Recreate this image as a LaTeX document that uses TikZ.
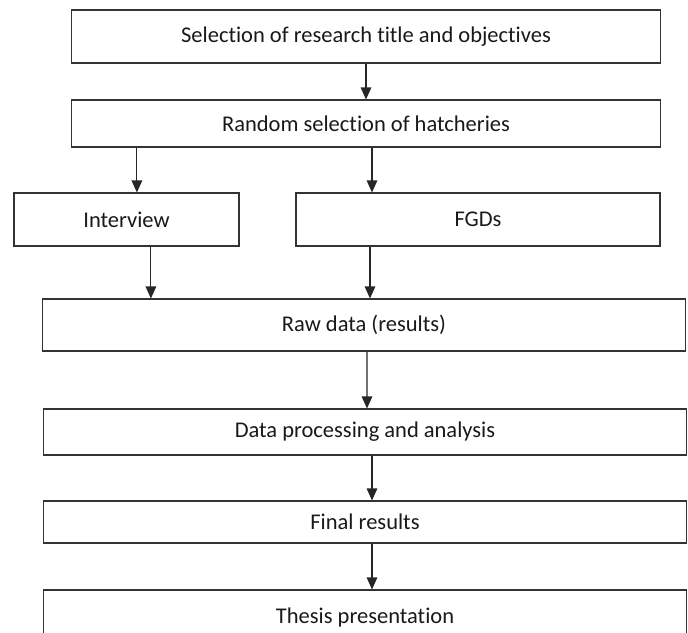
\documentclass[tikz,border=0pt]{standalone}
\usepackage{fontspec}
\setmainfont[Ligatures=NoCommon]{Carlito}
\usetikzlibrary{arrows.meta}

\tikzset{
  stage/.style={draw=black!80, line width=0.8pt, rectangle, inner sep=0pt,
    font=\fontsize{16}{18}\selectfont, text=black!90},
  flow/.style={->, black!85, line width=0.8pt}
}

\begin{document}
\begin{tikzpicture}[>={Triangle[length=8.5pt,width=7.5pt]}, x=0.025cm, y=-0.025cm]

    % Frame of the page
    \useasboundingbox (0,0) rectangle (688,632);
    \clip (0,0) rectangle (688,632);

    % Stages
    \node[stage, minimum width=14.7cm, minimum height=1.325cm] (sel) at (366,36.5) {Selection of research title and objectives};
    \node[stage, minimum width=14.7cm, minimum height=1.175cm] (rand) at (366,123.5) {Random selection of hatcheries};
    \node[stage, minimum width=5.625cm, minimum height=1.325cm] (intv) at (126.5,219.5) {Interview};
    \node[stage, minimum width=9.1cm, minimum height=1.325cm] (fgd) at (478,219.5) {FGDs};
    \node[stage, minimum width=16.05cm, minimum height=1.3cm] (raw) at (364,325) {Raw data (results)};
    \node[stage, minimum width=16.05cm, minimum height=1.15cm] (proc) at (365,432) {Data processing and analysis};
    \node[stage, minimum width=16.05cm, minimum height=1.05cm] (final) at (365,522) {Final results};
    \node[stage, minimum width=16.05cm, minimum height=1.35cm] (thesis) at (365,617) {Thesis presentation};

    % Arrows between stages
    \draw[flow] (sel.south) -- (rand.north);
    \draw[flow] ([xshift=0.26cm]intv.north |- rand.south) -- ([xshift=0.26cm]intv.north);
    \draw[flow] ([xshift=0.15cm]rand.south) -- ([xshift=0.15cm]rand.south |- fgd.north);
    \draw[flow] ([xshift=0.61cm]intv.south) -- ([xshift=0.61cm]intv.south |- raw.north);
    \draw[flow] ([xshift=0.15cm]raw.north |- fgd.south) -- ([xshift=0.15cm]raw.north);
    \draw[flow] ([xshift=0.075cm]raw.south) -- ([xshift=0.05cm]proc.north);
    \draw[flow] ([xshift=0.175cm]proc.south) -- ([xshift=0.175cm]final.north);
    \draw[flow] ([xshift=0.175cm]final.south) -- ([xshift=0.175cm]thesis.north);

\end{tikzpicture}
\end{document}
